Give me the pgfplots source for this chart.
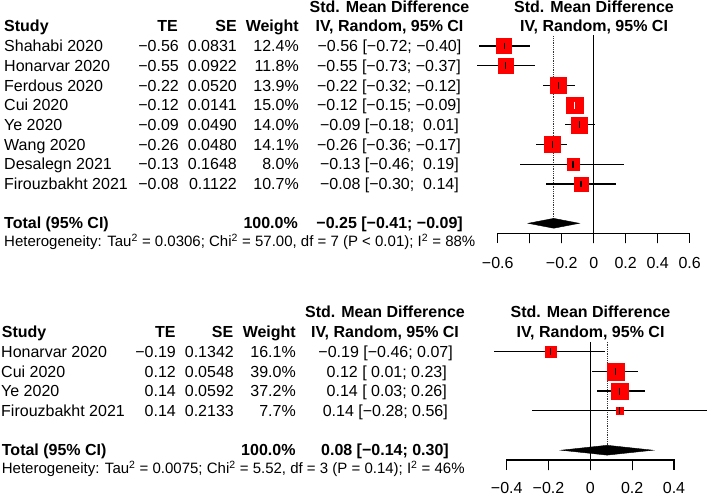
\documentclass[border=0pt]{standalone}
\usepackage{fontspec}
\setmainfont{Liberation Sans}
\usepackage{pgfplots}
\usepackage{pgfplotstable}
\pgfplotsset{compat=1.18}

% forest data: row, estimate, CI, weight (%)
\pgfplotstableread{
row te lo hi w
1 -0.56 -0.72 -0.40 12.4
2 -0.55 -0.73 -0.37 11.8
3 -0.22 -0.32 -0.12 13.9
4 -0.12 -0.15 -0.09 15.0
5 -0.09 -0.18 0.01 14.0
6 -0.26 -0.36 -0.17 14.1
7 -0.13 -0.46 0.19 8.0
8 -0.08 -0.30 0.14 10.7
}\topdata

\pgfplotstableread{
row te lo hi w
1 -0.19 -0.46 0.07 16.1
2 0.12 0.01 0.23 39.0
3 0.14 0.03 0.26 37.2
4 0.14 -0.28 0.56 7.7
}\botdata

\pgfplotsset{forest/.style={clip=false, hide axis, anchor=south west}}

% text cell: anchor, x, y of row 1, row, text
\newcommand\cellr[5]{%
  \pgfmathsetmacro\xx{#2}\pgfmathsetmacro\yy{-(#3+(#4-1)*19.7+5.6)}%
  \node[anchor=base #1, inner sep=0pt] at (\xx pt,\yy pt) {#5};}
% study row: y0, dx, row, study, te, se, weight, ci, ci right edge
\newcommand\srow[9]{%
  \cellr{west}{4+#2}{#1}{#3}{#4}%
  \cellr{east}{179+#2}{#1}{#3}{#5}%
  \cellr{east}{237+#2}{#1}{#3}{#6}%
  \cellr{east}{299+#2}{#1}{#3}{#7}%
  \cellr{east}{#9}{#1}{#3}{#8}}

\begin{document}
\fontsize{16}{19}\selectfont
\begin{tikzpicture}
\useasboundingbox (0,0) rectangle (708pt,-496pt);

% ---------- top panel ----------
\cellr{}{389.5}{46}{-1}{\bfseries Std. Mean Difference}
\cellr{}{389.5}{46}{0}{\bfseries IV, Random, 95\% CI}
\cellr{}{594}{46}{-1}{\bfseries Std. Mean Difference}
\cellr{}{594}{46}{0}{\bfseries IV, Random, 95\% CI}
\cellr{west}{4}{46}{0}{\bfseries Study}
\cellr{east}{178}{46}{0}{\bfseries TE}
\cellr{east}{237}{46}{0}{\bfseries SE}
\cellr{east}{299}{46}{0}{\bfseries Weight}
\srow{46}{0}{1}{Shahabi 2020}{−0.56}{0.0831}{12.4\%}{−0.56 [−0.72; −0.40]}{461.5}
\srow{46}{0}{2}{Honarvar 2020}{−0.55}{0.0922}{11.8\%}{−0.55 [−0.73; −0.37]}{461}
\srow{46}{0}{3}{Ferdous 2020}{−0.22}{0.0520}{13.9\%}{−0.22 [−0.32; −0.12]}{461}
\srow{46}{0}{4}{Cui 2020}{−0.12}{0.0141}{15.0\%}{−0.12 [−0.15; −0.09]}{461}
\srow{46}{0}{5}{Ye 2020}{−0.09}{0.0490}{14.0\%}{−0.09 [−0.18;\ \ 0.01]}{459}
\srow{46}{0}{6}{Wang 2020}{−0.26}{0.0480}{14.1\%}{−0.26 [−0.36; −0.17]}{461}
\srow{46}{0}{7}{Desalegn 2021}{−0.13}{0.1648}{8.0\%}{−0.13 [−0.46;\ \ 0.19]}{459}
\srow{46}{0}{8}{Firouzbakht 2021}{−0.08}{0.1122}{10.7\%}{−0.08 [−0.30;\ \ 0.14]}{459}
\cellr{west}{4}{46}{10}{\bfseries Total (95\% CI)}
\cellr{east}{298}{46}{10}{\bfseries 100.0\%}
\cellr{east}{463}{46}{10}{\bfseries −0.25 [−0.41; −0.09]}
\node[anchor=base west, inner sep=0pt, font=\fontsize{15}{18}\selectfont] at (4pt,-246.5pt)
  {Heterogeneity: Tau\textsuperscript{2} = 0.0306; Chi\textsuperscript{2} = 57.00, df = 7 (P < 0.01); I\textsuperscript{2} = 88\%};

\begin{axis}[forest, at={(497.7pt,-272.55pt)},
  x=160pt, y=19.7pt, xmin=-0.6, xmax=0.6, ymin=-12.5, ymax=-0.4]
\addplot[black, line width=1.3pt] coordinates {(0,-0.45) (0,-10.5)};
\addplot[black!80, densely dotted, line width=0.8pt] coordinates {(-0.25,-0.5) (-0.25,-9.75)};
\addplot[scatter, only marks, mark=square*,
  scatter/use mapped color={draw=red, fill=red},
  visualization depends on={8.5*sqrt(\thisrow{w}/15)-0.2 \as \msz},
  scatter/@pre marker code/.append style={/tikz/mark size=\msz}]
  table[x=te, y expr=-\thisrow{row}] {\topdata};
\addplot[only marks, mark=|, mark size=3.4, mark options={black, line width=1.2pt},
  skip coords between index={3}{4},
  error bars/.cd, x dir=both, x explicit, error mark=none,
  error bar style={black, line width=1.3pt}]
  table[x=te, y expr=-\thisrow{row},
    x error plus expr=\thisrow{hi}-\thisrow{te},
    x error minus expr=\thisrow{te}-\thisrow{lo}] {\topdata};
% Cui 2020: interval lies inside its square, drawn in white
\addplot[only marks, mark=|, mark size=3.4, mark options={white, line width=1.2pt},
  skip coords between index={0}{3}, skip coords between index={4}{8},
  error bars/.cd, x dir=both, x explicit, error mark=none,
  error bar style={white, line width=1.3pt}]
  table[x=te, y expr=-\thisrow{row},
    x error plus expr=\thisrow{hi}-\thisrow{te},
    x error minus expr=\thisrow{te}-\thisrow{lo}] {\topdata};
\addplot[fill=black, draw=black, line width=0.4pt] coordinates
  {(-0.41,-10) (-0.25,-9.75) (-0.09,-10) (-0.25,-10.25)} -- cycle;
\end{axis}

% ---------- bottom panel ----------
\cellr{}{385}{351.7}{-1}{\bfseries Std. Mean Difference}
\cellr{}{385}{351.7}{0}{\bfseries IV, Random, 95\% CI}
\cellr{}{590.5}{351.7}{-1}{\bfseries Std. Mean Difference}
\cellr{}{590.5}{351.7}{0}{\bfseries IV, Random, 95\% CI}
\cellr{west}{1.7}{351.7}{0}{\bfseries Study}
\cellr{east}{175.7}{351.7}{0}{\bfseries TE}
\cellr{east}{233.5}{351.7}{0}{\bfseries SE}
\cellr{east}{296}{351.7}{0}{\bfseries Weight}
\srow{351.7}{-3}{1}{Honarvar 2020}{−0.19}{0.1342}{16.1\%}{−0.19 [−0.46; 0.07]}{453}
\srow{351.7}{-3}{2}{Cui 2020}{0.12}{0.0548}{39.0\%}{0.12 [\ 0.01; 0.23]}{447}
\srow{351.7}{-3}{3}{Ye 2020}{0.14}{0.0592}{37.2\%}{0.14 [\ 0.03; 0.26]}{447}
\srow{351.7}{-3}{4}{Firouzbakht 2021}{0.14}{0.2133}{7.7\%}{0.14 [−0.28; 0.56]}{448}
\cellr{west}{1.7}{351.7}{6}{\bfseries Total (95\% CI)}
\cellr{east}{295.7}{351.7}{6}{\bfseries 100.0\%}
\cellr{east}{449}{351.7}{6}{\bfseries 0.08 [−0.14; 0.30]}
\node[anchor=base west, inner sep=0pt, font=\fontsize{15}{18}\selectfont] at (1.7pt,-473.4pt)
  {Heterogeneity: Tau\textsuperscript{2} = 0.0075; Chi\textsuperscript{2} = 5.52, df = 3 (P = 0.14); I\textsuperscript{2} = 46\%};

\begin{axis}[forest, at={(506.7pt,-499.45pt)},
  x=209.1pt, y=19.7pt, xmin=-0.4, xmax=0.4, ymin=-8.5, ymax=-0.4]
\addplot[black, line width=1.3pt] coordinates {(0,-0.5) (0,-6.5)};
\addplot[black!80, densely dotted, line width=0.8pt] coordinates {(0.08,-0.5) (0.08,-5.75)};
\addplot[scatter, only marks, mark=square*,
  scatter/use mapped color={draw=red, fill=red},
  visualization depends on={8.5*sqrt(\thisrow{w}/39)-0.2 \as \msz},
  scatter/@pre marker code/.append style={/tikz/mark size=\msz}]
  table[x=te, y expr=-\thisrow{row}] {\botdata};
\addplot[only marks, mark=|, mark size=3.4, mark options={black, line width=1.2pt},
  error bars/.cd, x dir=both, x explicit, error mark=none,
  error bar style={black, line width=1.3pt}]
  table[x=te, y expr=-\thisrow{row},
    x error plus expr=\thisrow{hi}-\thisrow{te},
    x error minus expr=\thisrow{te}-\thisrow{lo}] {\botdata};
\addplot[fill=black, draw=black, line width=0.4pt] coordinates
  {(-0.14,-6) (0.08,-5.75) (0.30,-6) (0.08,-6.25)} -- cycle;
% axis line with its ticks, and tick labels
\addplot[black, line width=1.3pt, line join=miter] coordinates {
  (-0.4,-7.01) (-0.4,-6.5) (-0.2,-6.5) (-0.2,-7.01) (-0.2,-6.5)
  (0,-6.5) (0,-7.01) (0,-6.5) (0.2,-6.5) (0.2,-7.01) (0.2,-6.5)
  (0.4,-6.5) (0.4,-7.01)};
\node[inner sep=0pt] at (axis cs:-0.4,-7.92) {−0.4};
\node[inner sep=0pt] at (axis cs:-0.2,-7.92) {−0.2};
\node[inner sep=0pt] at (axis cs:0,-7.92) {0};
\node[inner sep=0pt] at (axis cs:0.2,-7.92) {0.2};
\node[inner sep=0pt] at (axis cs:0.4,-7.92) {0.4};
\end{axis}

% ---------- top panel x axis, drawn last in an axis of the same geometry ----------
\begin{axis}[forest, at={(497.7pt,-274.52pt)},
  x=160pt, y=19.7pt, xmin=-0.6, xmax=0.6, ymin=-12.6, ymax=-0.4]
\addplot[black, line width=1.3pt, line join=miter] coordinates {
  (-0.6,-11.01) (-0.6,-10.5) (-0.4,-10.5) (-0.4,-11.01) (-0.4,-10.5)
  (-0.2,-10.5) (-0.2,-11.01) (-0.2,-10.5) (0,-10.5) (0,-11.01) (0,-10.5)
  (0.2,-10.5) (0.2,-11.01) (0.2,-10.5) (0.4,-10.5) (0.4,-11.01) (0.4,-10.5)
  (0.6,-10.5) (0.6,-11.01)};
\node[inner sep=0pt] at (axis cs:-0.6,-12.02) {−0.6};
\node[inner sep=0pt] at (axis cs:-0.2,-12.02) {−0.2};
\node[inner sep=0pt] at (axis cs:0,-12.02) {0};
\node[inner sep=0pt] at (axis cs:0.2,-12.02) {0.2};
\node[inner sep=0pt] at (axis cs:0.4,-12.02) {0.4};
\node[inner sep=0pt] at (axis cs:0.6,-12.02) {0.6};
\end{axis}
\end{tikzpicture}
\end{document}
